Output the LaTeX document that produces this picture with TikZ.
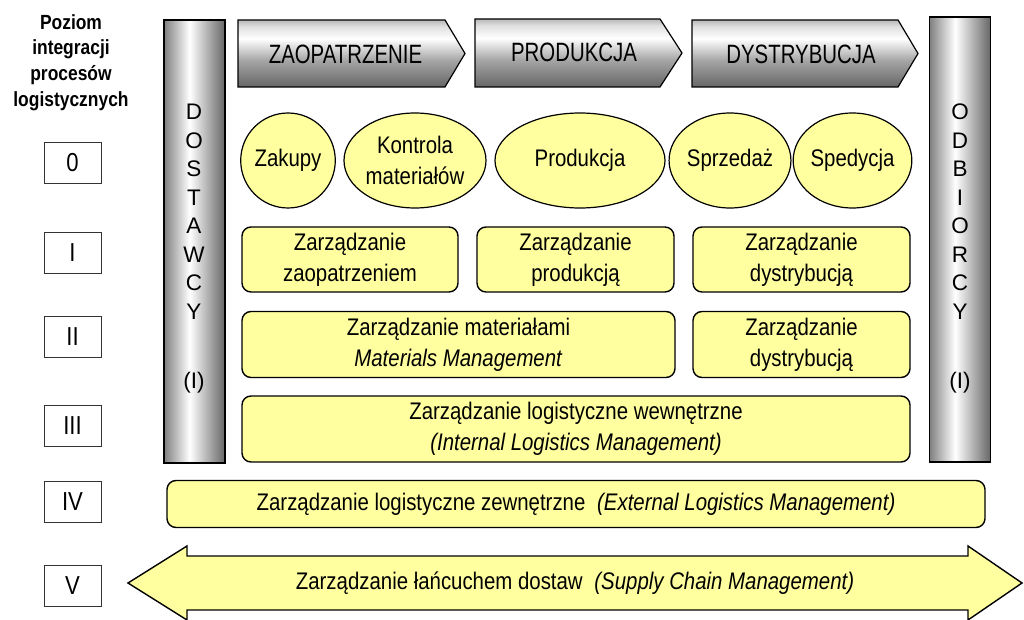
\documentclass[tikz,border=0pt]{standalone}
\usepackage{fontspec}
\setmainfont[FakeStretch=0.85]{Liberation Sans}
\newfontfamily\narrowfont[FakeStretch=0.77]{Liberation Sans}
\newfontfamily\widefont{Liberation Sans}
\usepackage{xcolor}
\usepackage{tikz}
\usetikzlibrary{shapes, positioning, calc}
\definecolor{pastelyellow}{RGB}{255,255,160}
\newcommand{\diagfont}{\fontsize{24}{31}\selectfont}
\pgfdeclareverticalshading{chevshade}{100bp}{color(0bp)=(black!60); color(25bp)=(black!60); color(45bp)=(black!35); color(61bp)=(white); color(70bp)=(black!12); color(75bp)=(black!28); color(100bp)=(black!28)}
\pgfdeclarehorizontalshading{pillarshade}{100bp}{color(0bp)=(black!50); color(25bp)=(black!50); color(46bp)=(white); color(75bp)=(black!60); color(100bp)=(black!60)}
\tikzset{
	yellowbox/.style={draw=black, line width=1.4pt, fill=pastelyellow, rounded corners=9pt, inner sep=0pt, align=center, font=\diagfont},
	yellowoval/.style={draw=black, line width=1.2pt, fill=pastelyellow, ellipse, inner sep=0pt, align=center, font=\diagfont},
	levelbox/.style={draw=black!80, line width=0.8pt, fill=white, minimum width=57pt, minimum height=41pt, inner sep=0pt, font=\fontsize{26}{28}\selectfont},
	pillar/.style={draw=black, line width=1.4pt, shade, shading=pillarshade, minimum width=61pt, inner sep=0pt},
	pillarletter/.style={inner sep=0pt, font=\widefont\fontsize{22.5}{28}\selectfont},
	chevron/.style={draw=black, line width=1.2pt, shade, shading=chevshade},
	chevtext/.style={inner sep=0pt, font=\narrowfont\fontsize{26.5}{30}\selectfont},
}

\begin{document}
\begin{tikzpicture}[x=1pt, y=-1pt]
		\useasboundingbox (0,0) rectangle (1024,620);
		\pgfmathsetmacro{\ovaly}{160.5}
		
		\node[align=center, inner sep=0pt, font=\fontsize{20.5}{25.7}\selectfont\bfseries] (title) at (71,62.5) {Poziom\\integracji\\procesów\\logistycznych};
		\node[levelbox] (lev0) at (72.5,163) {0};
		\node[levelbox] (lev1) at (72.5,252.5) {I};
		\node[levelbox] (lev2) at (72.5,337) {II};
		\node[levelbox] (lev3) at (72.5,425.5) {III};
		\node[levelbox] (lev4) at (72.5,501.5) {IV};
		\node[levelbox] (lev5) at (72.5,586) {V};
		
		\node[pillar, minimum height=443pt] (dostawcy) at (194.5,241.5) {};
		\node[pillar, minimum height=445pt] (odbiorcy) at (960,239.5) {};
		\foreach \l [count=\i] in {D,O,S,T,A,W,C,Y}
			\node[pillarletter] (dost\i) at (194,83.5+28.5*\i) {\l};
		\foreach \l [count=\i] in {O,D,B,I,O,R,C,Y}
			\node[pillarletter] (odb\i) at (960,83.5+28.5*\i) {\l};
		\node[pillarletter] (dostI) at (194,383) {(I)};
		\node[pillarletter] (odbI) at (960,383) {(I)};
		
		\shadedraw[chevron] (238,20) -- (445,20) -- (465,53.5) -- (445,87) -- (238,87) -- cycle;
		\shadedraw[chevron] (475,19) -- (660,19) -- (682,53) -- (660,87) -- (475,87) -- cycle;
		\shadedraw[chevron] (692,20) -- (898,20) -- (918,53.5) -- (898,87) -- (692,87) -- cycle;
		\node[chevtext] (zaop) at (345.5,54.5) {ZAOPATRZENIE};
		\node[chevtext] (prod) at (574,52.5) {PRODUKCJA};
		\node[chevtext] (dyst) at (801,54.5) {DYSTRYBUCJA};
		
		\node[yellowoval, minimum width=94pt, minimum height=95pt] (zakupy) at (288,\ovaly) {Zakupy};
		\node[yellowoval, minimum width=142pt, minimum height=95pt] (kontrola) at (415,\ovaly) {Kontrola\\materiałów};
		\node[yellowoval, minimum width=170pt, minimum height=95pt] (produkcja) at (580,\ovaly) {Produkcja};
		\node[yellowoval, minimum width=114pt, minimum height=95pt] (sprzedaz) at (730,\ovaly) {Sprzedaż};
		\node[yellowoval, minimum width=113pt, minimum height=95pt] (spedycja) at (852.5,\ovaly) {Spedycja};
		
		\node[yellowbox, minimum width=216pt, minimum height=65pt] (zzaop) at (350,259.5) {Zarządzanie\\zaopatrzeniem};
		\node[yellowbox, minimum width=197pt, minimum height=65pt] (zprod) at (575.5,259.5) {Zarządzanie\\produkcją};
		\node[yellowbox, minimum width=217pt, minimum height=65pt] (zdyst) at (801.5,259.5) {Zarządzanie\\dystrybucją};
		
		\node[yellowbox, minimum width=433pt, minimum height=66pt] (zmat) at (458.5,344.5) {Zarządzanie materiałami\\\textit{Materials Management}};
		\node[yellowbox, minimum width=217pt, minimum height=66pt] (zdystb) at (801.5,344.5) {Zarządzanie\\dystrybucją};
		
		\node[yellowbox, minimum width=668pt, minimum height=66pt] (zwewn) at (576,429) {Zarządzanie logistyczne wewnętrzne\\\textit{(Internal Logistics Management)}};
		
		\node[yellowbox, minimum width=818pt, minimum height=47pt] (zzewn) at (576,504) {Zarządzanie logistyczne zewnętrzne\hspace{0.25em} \textit{(External Logistics Management)}};
		
		\draw[line width=1.4pt, fill=pastelyellow] (128,583) -- (187,546) -- (187,556) -- (968,556) -- (968,546) -- (1022,583) -- (968,620) -- (968,610) -- (187,610) -- (187,620) -- cycle;
		\node[font=\diagfont] (scm) at (575,583) {Zarządzanie łańcuchem dostaw\hspace{0.25em} \textit{(Supply Chain Management)}};
		
		\end{tikzpicture}
\end{document}
